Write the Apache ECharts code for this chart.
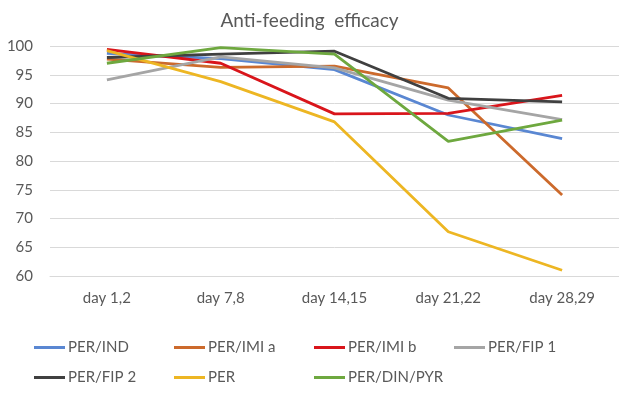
<!DOCTYPE html>
<html>
<head>
<meta charset="utf-8">
<script src="https://cdn.jsdelivr.net/npm/echarts@6/dist/echarts.min.js"></script>
<style>
html,body{margin:0;padding:0;background:#fff;}
#chart{width:619px;height:402px;}
</style>
</head>
<body>
<div id="chart"></div>
<script>
var categories = ['day 1,2', 'day 7,8', 'day 14,15', 'day 21,22', 'day 28,29'];
var seriesNames = ['PER/IND', 'PER/IMI a', 'PER/IMI b', 'PER/FIP 1', 'PER/FIP 2', 'PER', 'PER/DIN/PYR'];
var perInd    = [98.7, 97.8, 95.9, 88.0, 83.9];
var perImiA   = [97.7, 96.3, 96.5, 92.7, 74.1];
var perImiB   = [99.4, 97.0, 88.2, 88.3, 91.4];
var perFip1   = [94.1, 98.1, 96.2, 90.6, 87.2];
var perFip2   = [98.0, 98.6, 99.1, 90.9, 90.3];
var per       = [99.2, 93.8, 86.8, 67.7, 61.0];
var perDinPyr = [97.0, 99.7, 98.6, 83.4, 87.1];
var yTicks = [60, 65, 70, 75, 80, 85, 90, 95, 100];

var values = [perInd, perImiA, perImiB, perFip1, perFip2, per, perDinPyr];
var colors = ['#5A87D2', '#CC6A2C', '#D9151B', '#A5A5A5', '#404040', '#EDB623', '#6EA83F'];
var font = 'Lato, "Liberation Sans", sans-serif';
var textColor = '#595959';

var legendPos = [
  [34, 340], [174, 340], [314, 340], [454, 340],
  [34, 370], [174, 370], [314, 370]
];

var chart = echarts.init(document.getElementById('chart'));
chart.setOption({
  animation: false,
  backgroundColor: '#fff',
  title: {
    text: 'Anti-feeding  efficacy',
    left: 'center',
    top: 6,
    textStyle: {fontFamily: font, fontSize: 19, fontWeight: 'normal', color: textColor}
  },
  legend: seriesNames.map(function (n, i) {
    return {
      data: [n],
      left: legendPos[i][0],
      top: legendPos[i][1],
      padding: 0,
      icon: 'rect',
      itemWidth: 31,
      itemHeight: 3,
      itemGap: 0,
      textStyle: {fontFamily: font, fontSize: 15, color: textColor, padding: [0, 0, 0, -2]}
    };
  }),
  grid: {left: 50, top: 46, width: 573, height: 230, containLabel: false},
  xAxis: {
    type: 'category',
    data: categories,
    boundaryGap: true,
    axisTick: {show: false},
    axisLine: {lineStyle: {color: '#D9D9D9', width: 1}},
    axisLabel: {fontFamily: font, fontSize: 15, color: textColor, margin: 15}
  },
  yAxis: {
    type: 'value',
    min: yTicks[0],
    max: yTicks[yTicks.length - 1],
    interval: 5,
    axisLine: {show: false},
    axisTick: {show: false},
    splitLine: {lineStyle: {color: '#D9D9D9', width: 1}},
    axisLabel: {fontFamily: font, fontSize: 15, color: textColor, margin: 17}
  },
  series: seriesNames.map(function (n, i) {
    return {
      name: n,
      type: 'line',
      data: values[i],
      showSymbol: false,
      symbol: 'none',
      color: colors[i],
      lineStyle: {width: 2.8, color: colors[i]}
    };
  })
});
</script>
</body>
</html>
